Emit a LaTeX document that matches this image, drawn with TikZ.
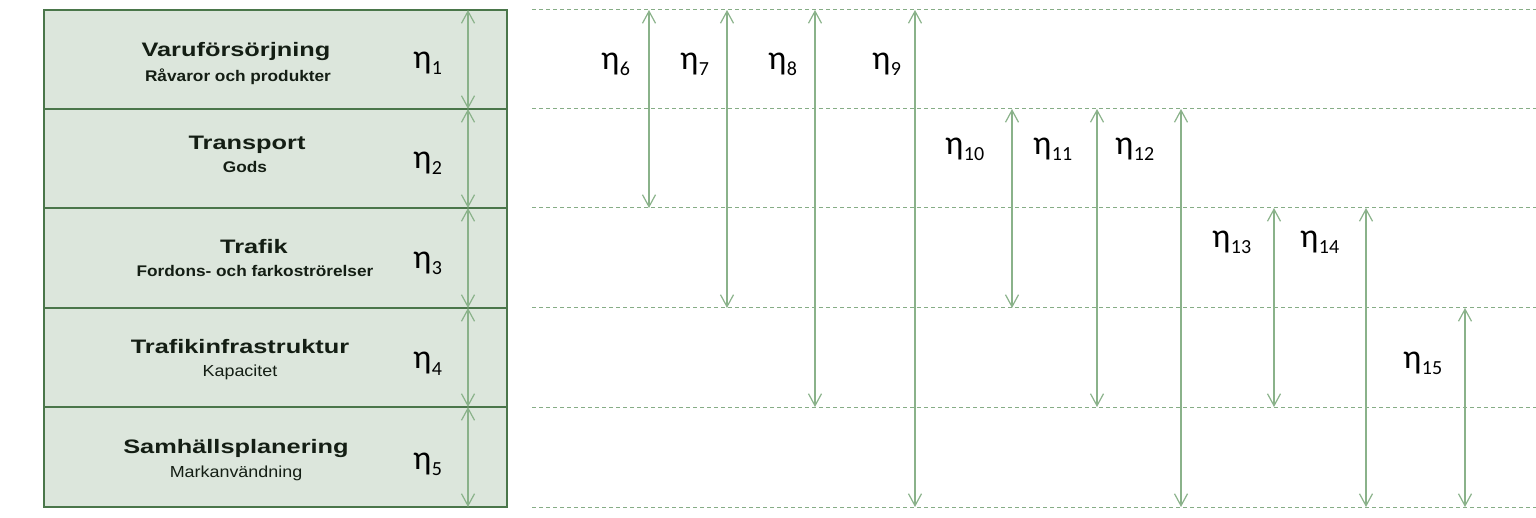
\documentclass[tikz,border=0pt]{standalone}
\usepackage{fontspec}
\setmainfont{Liberation Sans}
\newfontfamily\titlefont[FakeStretch=1.3]{Liberation Sans}
\newfontfamily\subfont[FakeStretch=1.12]{Liberation Sans}
\newfontfamily\etafont{Carlito}
\usetikzlibrary{arrows.meta}
\definecolor{boxfill}{HTML}{DCE6DC}
\definecolor{boxline}{HTML}{4A764A}
\definecolor{arrcol}{HTML}{8AB28A}
\definecolor{dashcol}{HTML}{86AD86}
\definecolor{txtcol}{HTML}{141E14}
\newcommand{\etalab}[1]{{\etafont\fontsize{34}{34}\selectfont η\kern0.5pt\raisebox{-6pt}{\fontsize{20}{20}\selectfont #1}}}
\tikzset{
  rowbox/.style={draw=boxline, line width=2pt, fill=boxfill, minimum width=463pt, inner sep=0pt, outer sep=0pt, anchor=north west},
  titletext/.style={anchor=base, inner sep=0pt, text=txtcol, font=\titlefont\bfseries\fontsize{19.5}{20}\selectfont},
  subbold/.style={anchor=base, inner sep=0pt, text=txtcol, font=\subfont\bfseries\fontsize{15.4}{16}\selectfont},
  subreg/.style={anchor=base, inner sep=0pt, text=txtcol, font=\subfont\fontsize{16}{16}\selectfont},
  etatext/.style={anchor=base west, inner sep=0pt, text=black},
  dimarrow/.style={draw=arrcol, line width=1.2pt, {Straight Barb[length=12pt,width=13pt]}-{Straight Barb[length=12pt,width=13pt]}},
  levelline/.style={draw=dashcol, line width=1pt, dash pattern=on 4pt off 3pt}
}
\begin{document}
\begin{tikzpicture}[x=1pt,y=-1pt]
\useasboundingbox (0,0) rectangle (1536,518);
% rows
\node[rowbox, minimum height=99pt] (r1) at (44,10) {};
\node[rowbox, minimum height=99pt] (r2) at (44,109) {};
\node[rowbox, minimum height=100pt] (r3) at (44,208) {};
\node[rowbox, minimum height=99pt] (r4) at (44,308) {};
\node[rowbox, minimum height=100pt] (r5) at (44,407) {};
% texts
\node[titletext] (t1) at (236,56.5) {Varuförsörjning};
\node[subbold] (s1) at (238,81.5) {Råvaror och produkter};
\node[titletext] (t2) at (247,150) {Transport};
\node[subbold] (s2) at (245,173) {Gods};
\node[titletext] (t3) at (254,254) {Trafik};
\node[subbold] (s3) at (255,277) {Fordons- och farkoströrelser};
\node[titletext] (t4) at (240,354) {Trafikinfrastruktur};
\node[subreg] (s4) at (240,377) {Kapacitet};
\node[titletext] (t5) at (236,453) {Samhällsplanering};
\node[subreg] (s5) at (236,477) {Markanvändning};
% eta labels in boxes
\node[etatext] (e1) at (413,69) {\etalab{1}};
\node[etatext] (e2) at (413,169) {\etalab{2}};
\node[etatext] (e3) at (413,269) {\etalab{3}};
\node[etatext] (e4) at (413,369) {\etalab{4}};
\node[etatext] (e5) at (413,469) {\etalab{5}};
% level coordinates
\coordinate (d1s) at (532,10);  \coordinate (d1e) at (1536,10);
\coordinate (d2s) at (532,109); \coordinate (d2e) at (1536,109);
\coordinate (d3s) at (532,208); \coordinate (d3e) at (1536,208);
\coordinate (d4s) at (532,308); \coordinate (d4e) at (1536,308);
\coordinate (d5s) at (532,407); \coordinate (d5e) at (1536,407);
\coordinate (d6s) at (532,507); \coordinate (d6e) at (1536,507);
\foreach \i in {1,...,6} { \draw[levelline] (d\i s) -- (d\i e); }
% box arrows
\coordinate (b1t) at (468,10);  \coordinate (b1b) at (468,109);
\coordinate (b2t) at (468,109); \coordinate (b2b) at (468,208);
\coordinate (b3t) at (468,208); \coordinate (b3b) at (468,308);
\coordinate (b4t) at (468,308); \coordinate (b4b) at (468,407);
\coordinate (b5t) at (468,407); \coordinate (b5b) at (468,507);
\foreach \i in {1,...,5} { \draw[dimarrow] (b\i t) -- (b\i b); }
% right arrows
\coordinate (a6t) at (649,10);   \coordinate (a6b) at (649,208);
\coordinate (a7t) at (727,10);   \coordinate (a7b) at (727,308);
\coordinate (a8t) at (815,10);   \coordinate (a8b) at (815,407);
\coordinate (a9t) at (915,10);   \coordinate (a9b) at (915,507);
\coordinate (a10t) at (1012,109); \coordinate (a10b) at (1012,308);
\coordinate (a11t) at (1097,109); \coordinate (a11b) at (1097,407);
\coordinate (a12t) at (1181,109); \coordinate (a12b) at (1181,507);
\coordinate (a13t) at (1274,208); \coordinate (a13b) at (1274,407);
\coordinate (a14t) at (1366,208); \coordinate (a14b) at (1366,507);
\coordinate (a15t) at (1465,308); \coordinate (a15b) at (1465,507);
\foreach \i in {6,...,15} { \draw[dimarrow] (a\i t) -- (a\i b); }
% right labels
\node[etatext] (e6) at (601,70) {\etalab{6}};
\node[etatext] (e7) at (680,70) {\etalab{7}};
\node[etatext] (e8) at (768,70) {\etalab{8}};
\node[etatext] (e9) at (872,70) {\etalab{9}};
\node[etatext] (e10) at (945,155) {\etalab{10}};
\node[etatext] (e11) at (1033,155) {\etalab{11}};
\node[etatext] (e12) at (1115,155) {\etalab{12}};
\node[etatext] (e13) at (1212,248) {\etalab{13}};
\node[etatext] (e14) at (1300,248) {\etalab{14}};
\node[etatext] (e15) at (1403,368) {\etalab{15}};
\end{tikzpicture}
\end{document}
